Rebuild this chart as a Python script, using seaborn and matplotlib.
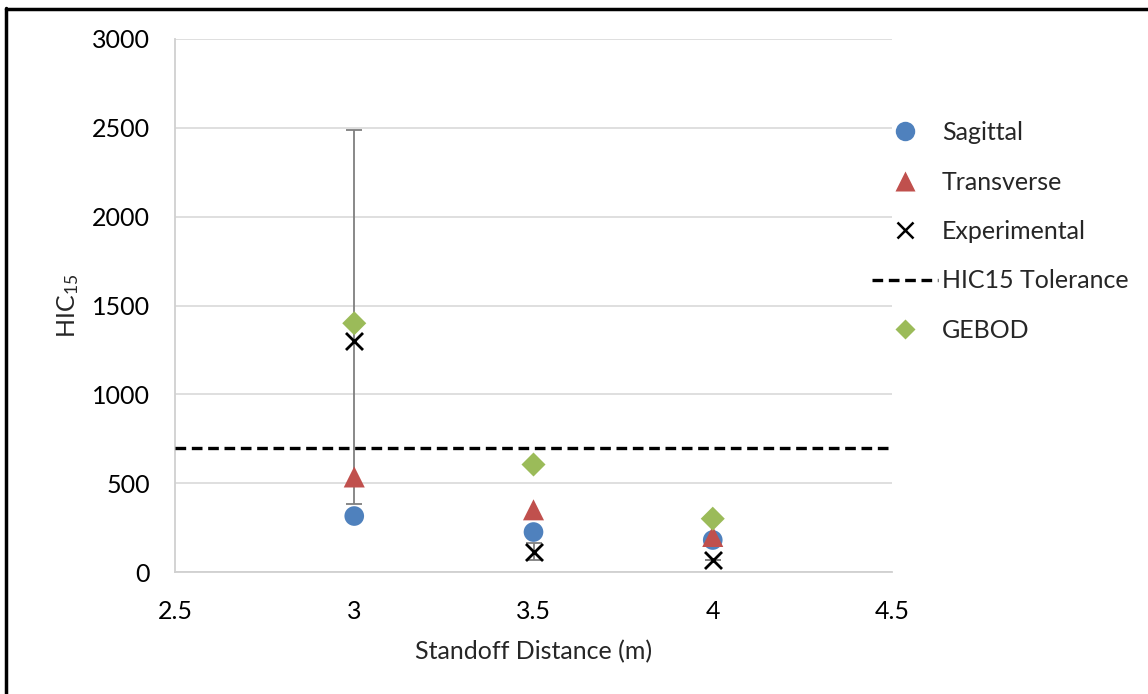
import matplotlib
matplotlib.use("Agg")
import matplotlib.pyplot as plt
from matplotlib.lines import Line2D
import numpy as np
import pandas as pd
import seaborn as sns

# Standoff distances (m)
distance = [3.0, 3.5, 4.0]

# HIC15 values per model
sagittal = [315, 225, 180]
transverse = [535, 350, 200]
experimental = [1300, 115, 65]
gebod = [1400, 605, 300]

# Experimental spread (lower / upper error)
exp_err_low = [917, 47, 0]
exp_err_high = [1190, 47, 0]

tolerance = 700

x_ticks = [2.5, 3, 3.5, 4, 4.5]
y_ticks = [0, 500, 1000, 1500, 2000, 2500, 3000]

sns.set_theme(style="white")
plt.rcParams["font.family"] = ["Lato", "DejaVu Sans"]
plt.rcParams["mathtext.default"] = "regular"

BLUE = "#4F81BD"
RED = "#C0504D"
GREEN = "#9BBB59"
FS = 18

fig = plt.figure(figsize=(11.48, 6.94), dpi=100)
ax = fig.add_axes([175 / 1148, 1 - 572 / 694, (892 - 175) / 1148, (572 - 39) / 694])

df = pd.DataFrame({
    "distance": distance * 4,
    "HIC": sagittal + transverse + experimental + gebod,
    "series": ["Sagittal"] * 3 + ["Transverse"] * 3 + ["Experimental"] * 3 + ["GEBOD"] * 3,
})

# Error bar behind the markers
ax.errorbar(distance, experimental, yerr=[exp_err_low, exp_err_high], fmt="none",
            ecolor="#7f7f7f", elinewidth=1.3, capsize=6, capthick=1.3, zorder=2)

ax.axhline(tolerance, color="black", lw=2.4, ls=(0, (3.2, 1.7)), zorder=3)

sns.scatterplot(data=df[df.series == "Sagittal"], x="distance", y="HIC", ax=ax,
                marker="o", s=200, color=BLUE, edgecolor="none", zorder=4, legend=False)
sns.scatterplot(data=df[df.series == "Transverse"], x="distance", y="HIC", ax=ax,
                marker="^", s=230, color=RED, edgecolor="none", zorder=5, legend=False)
sns.scatterplot(data=df[df.series == "Experimental"], x="distance", y="HIC", ax=ax,
                marker="x", s=150, color="black", linewidth=2.0, zorder=6, legend=False)
sns.scatterplot(data=df[df.series == "GEBOD"], x="distance", y="HIC", ax=ax,
                marker="D", s=150, color=GREEN, edgecolor="none", zorder=6, legend=False)

ax.set_xlim(2.5, 4.5)
ax.set_ylim(0, 3000)
ax.set_xticks(x_ticks)
ax.set_xticklabels([f"{v:g}" for v in x_ticks])
ax.set_yticks(y_ticks)
ax.set_yticklabels([str(v) for v in y_ticks])
ax.tick_params(axis="both", labelsize=FS, colors="#000000", length=0)
ax.tick_params(axis="y", pad=18)
ax.tick_params(axis="x", pad=20)

ax.grid(axis="y", color="#d9d9d9", lw=1.2)
ax.set_axisbelow(True)
for side in ["top", "right"]:
    ax.spines[side].set_visible(False)
for side in ["left", "bottom"]:
    ax.spines[side].set_color("#d0d0d0")
    ax.spines[side].set_linewidth(1.3)

ax.set_xlabel("Standoff Distance (m)", fontsize=FS)
ax.set_ylabel("HIC$_{15}$", fontsize=FS)
ax.xaxis.set_label_coords(0.5, -(652 - 572) / 533)
ax.yaxis.set_label_coords(-(175 - 68) / 717, 0.5)
ax.xaxis.label.set_va("center")
ax.yaxis.label.set_va("center")

handles = [
    Line2D([], [], ls="none", marker="o", ms=14, color=BLUE, mec="none"),
    Line2D([], [], ls="none", marker="^", ms=14, color=RED, mec="none"),
    Line2D([], [], ls="none", marker="x", ms=11, color="black", mew=1.8),
    Line2D([], [], color="black", lw=2.4, ls=(0, (3.2, 1.7))),
    Line2D([], [], ls="none", marker="D", ms=10.5, color=GREEN, mec="none"),
]
labels = ["Sagittal", "Transverse", "Experimental", "HIC15 Tolerance", "GEBOD"]
fig.legend(handles, labels, loc="upper left", bbox_to_anchor=(872 / 1148, 1 - 121 / 694),
           frameon=False, fontsize=FS, handlelength=2.65, handletextpad=0.15,
           labelspacing=1.06, borderaxespad=0, borderpad=0)

# Frame along the top and left edge
fig.add_artist(Line2D([6 / 1148, 6 / 1148], [0, 1 - 8 / 694], color="black", lw=2.5,
                      transform=fig.transFigure))
fig.add_artist(Line2D([6 / 1148, 1], [1 - 9 / 694, 1 - 9 / 694], color="black", lw=2.5,
                      transform=fig.transFigure))

fig.savefig("out.png", dpi=100, facecolor="white")
